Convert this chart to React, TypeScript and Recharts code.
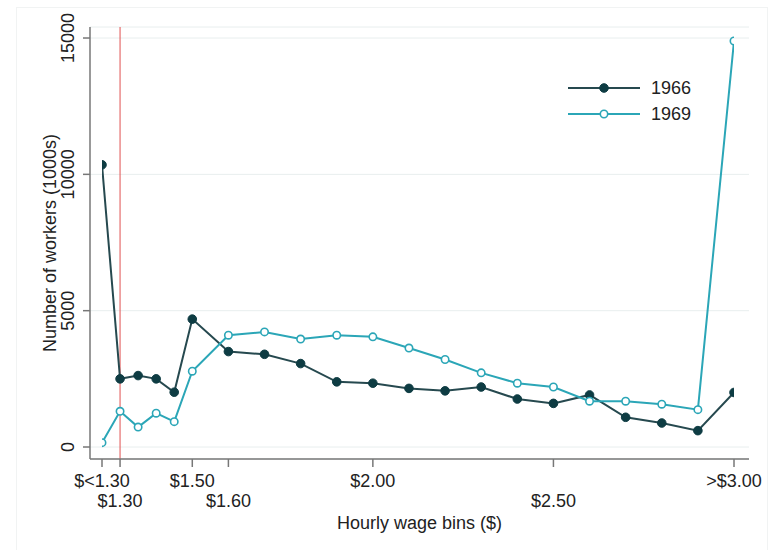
import React from 'react';
import { LineChart, Line, XAxis, YAxis, CartesianGrid, ReferenceLine } from 'recharts';

// Wage bin positions (in $); $<1.30 sits one half-step left of $1.30
const wageBins = [1.25, 1.3, 1.35, 1.4, 1.45, 1.5, 1.6, 1.7, 1.8, 1.9, 2.0, 2.1, 2.2, 2.3, 2.4, 2.5, 2.6, 2.7, 2.8, 2.9, 3.0];
const workers1966 = [10350, 2500, 2620, 2500, 2010, 4690, 3500, 3400, 3060, 2390, 2340, 2150, 2060, 2200, 1760, 1600, 1910, 1090, 880, 600, 2000];
const workers1969 = [160, 1310, 730, 1240, 930, 2780, 4100, 4220, 3960, 4100, 4040, 3630, 3210, 2720, 2340, 2200, 1680, 1680, 1570, 1370, 14890];

const xTickValues = [1.25, 1.3, 1.5, 1.6, 2.0, 2.5, 3.0];
const xTickLabels = ['$<1.30', '$1.30', '$1.50', '$1.60', '$2.00', '$2.50', '>$3.00'];
const xTickRows = [0, 1, 0, 1, 0, 1, 0];
const yTickValues = [0, 5000, 10000, 15000];
const seriesNames = ['1966', '1969'];
const minimumWage = 1.3;

const data = wageBins.map((x, i) => ({ x, y1966: workers1966[i], y1969: workers1969[i] }));

const C1966 = '#0e3c43';
const C1966_LINE = '#26494f';
const C1969 = '#2ba6b7';
const FONT = 'Liberation Sans, Arial, sans-serif';
const TEXT = '#222';

const XTick = (props: any) => {
  const { x, y, payload } = props;
  const idx = xTickValues.findIndex((v) => Math.abs(v - payload.value) < 1e-6);
  if (idx < 0) return null;
  const row = xTickRows[idx];
  return (
    <text x={x} y={y} dy={row ? 38 : 18} textAnchor="middle" fontSize={18} fontFamily={FONT} fill={TEXT}>
      {xTickLabels[idx]}
    </text>
  );
};

const YTick = (props: any) => {
  const { x, y, payload } = props;
  const bx = x - 7;
  return (
    <text x={bx} y={y} transform={`rotate(-90, ${bx}, ${y})`} textAnchor="middle" fontSize={18} fontFamily={FONT} fill={TEXT}>
      {payload.value}
    </text>
  );
};

const LegendBox = () => (
  <div style={{ position: 'absolute', left: 568, top: 75, fontFamily: FONT, fontSize: 18, color: TEXT }}>
    {[
      { name: seriesNames[0], color: C1966_LINE, fill: C1966, stroke: C1966, sw: 1, r: 4.3 },
      { name: seriesNames[1], color: C1969, fill: '#fff', stroke: C1969, sw: 1.6, r: 3.7 },
    ].map((s) => (
      <div key={s.name} style={{ display: 'flex', alignItems: 'center', height: 26 }}>
        <svg width={72} height={12} style={{ display: 'block' }}>
          <line x1={0} y1={6} x2={72} y2={6} stroke={s.color} strokeWidth={2} />
          <circle cx={36} cy={6} r={s.r} fill={s.fill} stroke={s.stroke} strokeWidth={s.sw} />
        </svg>
        <span style={{ marginLeft: 11 }}>{s.name}</span>
      </div>
    ))}
  </div>
);

export default function App() {
  return (
    <div style={{ position: 'absolute', left: 0, top: 0, width: 779, height: 550, background: '#fff' }}>
      <div
        style={{
          position: 'absolute',
          left: 16,
          top: 7,
          width: 750,
          height: 560,
          borderLeft: '1px solid #f1f3f3',
          borderTop: '1px solid #f1f3f3',
          borderRight: '1px solid #f1f3f3',
        }}
      />
      <div style={{ position: 'absolute', left: 0, top: 0 }}>
        <LineChart width={779} height={550} data={data} margin={{ top: 27, right: 30, left: 0, bottom: 0 }}>
          <CartesianGrid horizontal vertical={false} stroke="#e8eeee" strokeWidth={1} />
          <XAxis
            type="number"
            dataKey="x"
            domain={[1.25, 3.0]}
            allowDataOverflow
            ticks={xTickValues}
            interval={0}
            padding={{ left: 12, right: 15 }}
            height={91}
            axisLine={{ stroke: '#777', strokeWidth: 1.5 }}
            tickLine={{ stroke: '#777', strokeWidth: 1.5 }}
            tickSize={8}
            tick={<XTick />}
            label={{ value: 'Hourly wage bins ($)', position: 'insideBottom', offset: 21, fontSize: 18, fontFamily: FONT, fill: TEXT }}
          />
          <YAxis
            type="number"
            domain={[-440, 15404]}
            allowDataOverflow
            ticks={yTickValues}
            interval={0}
            width={90}
            axisLine={{ stroke: '#777', strokeWidth: 1.5 }}
            tickLine={{ stroke: '#777', strokeWidth: 1.5 }}
            tickSize={7}
            tick={<YTick />}
            label={{
              value: 'Number of workers (1000s)',
              angle: -90,
              position: 'insideLeft',
              offset: 50,
              fontSize: 18,
              fontFamily: FONT,
              fill: TEXT,
              style: { textAnchor: 'middle' },
            }}
          />
          <ReferenceLine x={minimumWage} stroke="#e05050" strokeWidth={1} />
          <Line
            type="linear"
            dataKey="y1966"
            name={seriesNames[0]}
            stroke={C1966_LINE}
            strokeWidth={2}
            dot={{ r: 4.3, fill: C1966, stroke: C1966, strokeWidth: 1 }}
            activeDot={false}
            isAnimationActive={false}
          />
          <Line
            type="linear"
            dataKey="y1969"
            name={seriesNames[1]}
            stroke={C1969}
            strokeWidth={2}
            dot={{ r: 3.7, fill: '#fff', stroke: C1969, strokeWidth: 1.6 }}
            activeDot={false}
            isAnimationActive={false}
          />
        </LineChart>
      </div>
      <LegendBox />
    </div>
  );
}
